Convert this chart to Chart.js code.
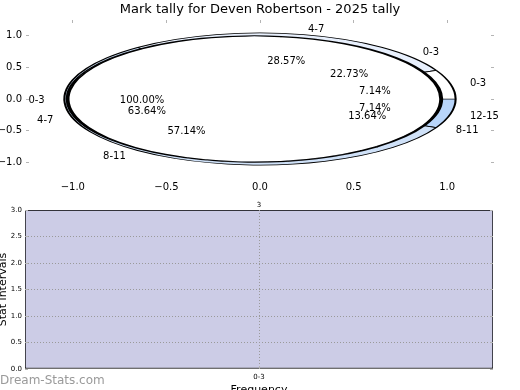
<!DOCTYPE html>
<html><head><meta charset="utf-8">
<script src="https://cdn.jsdelivr.net/npm/chart.js@4.4.1/dist/chart.umd.min.js"></script>
<style>
html,body{margin:0;padding:0;background:#fff;width:520px;height:390px;overflow:hidden;position:relative}
canvas{position:absolute}
#wm{position:absolute;left:0;top:373px;font:12px "DejaVu Sans";line-height:14px;color:#9a9a9a;white-space:nowrap}
</style></head><body>
<canvas id="axes" width="520" height="197" style="left:0;top:0"></canvas>
<canvas id="pie" width="520" height="197" style="left:0;top:0"></canvas>
<canvas id="bar" width="522" height="200" style="left:-2px;top:197px"></canvas>
<div id="wm">Dream-Stats.com</div>
<script>
// ---- data ----
const chartTitle = 'Mark tally for Deven Robertson - 2025 tally';
const innerLabels = ['0-3'];
const innerValues = [3];
const middleLabels = ['0-3', '4-7', '8-11'];
const middleValues = [5, 14, 3];
const outerLabels = ['0-3', '4-7', '8-11', '12-15'];
const outerValues = [1, 4, 8, 1];
const pieAxisTicks = [-1.0, -0.5, 0.0, 0.5, 1.0];
const barCategories = ['0-3'];
const barValues = [3];
const barTicks = [0, 0.5, 1.0, 1.5, 2.0, 2.5, 3.0];
const barYTitle = 'Stat intervals';
const barXTitle = 'Frequency';

// ---- styles / geometry ----
const sliceColors = {'0-3': '#ffffff', '4-7': '#e8f0fd', '8-11': '#cfe1f8', '12-15': '#b8d5fa'};
const TICK_GRAY = '#b4b4b4';
const GRID_GRAY = '#9a9a9a';
const LABEL_R = 1.15, PCT_R = 0.63;
// ring geometry in axis units: [inner, outer, horizontal centre shift, border width]
const outerRing = [0.96, 1.045, 0.0, 0.7];
const middleRing = [0.993, 1.003, -0.03, 0.7];
const innerRing = [0.0, 0.993, -0.03, 0];

Chart.defaults.font.family = "'DejaVu Sans', sans-serif";
Chart.defaults.color = '#000';
const fmt1 = v => (v < 0 ? '\u2212' : '') + Math.abs(v).toFixed(1);
const setTicks = arr => s => { s.ticks = arr.map(v => ({value: v})); };

// ---- top axes ----
const axesChart = new Chart(document.getElementById('axes'), {
  type: 'scatter',
  data: {datasets: []},
  options: {
    responsive: false, animation: false, events: [],
    layout: {padding: 0},
    plugins: {
      legend: {display: false}, tooltip: {enabled: false},
      title: {display: true, text: chartTitle, font: {size: 13, weight: 'normal'}, color: '#000', padding: {top: 2, bottom: 0}}
    },
    scales: {
      x: {type: 'linear', position: 'bottom', min: -1.25, max: 1.25, afterBuildTicks: setTicks(pieAxisTicks),
          afterFit: s => { s.height = 19; },
          ticks: {callback: fmt1, font: {size: 10}, padding: 3, maxRotation: 0, autoSkip: false},
          grid: {drawOnChartArea: false, drawTicks: false}, border: {display: false}},
      x2: {type: 'linear', position: 'top', min: -1.25, max: 1.25, afterBuildTicks: setTicks(pieAxisTicks),
          afterFit: s => { s.height = 2.4; },
          ticks: {display: false}, grid: {drawOnChartArea: false, tickLength: -3, tickColor: TICK_GRAY}, border: {display: false}},
      y: {type: 'linear', position: 'left', min: -1.25, max: 1.25, afterBuildTicks: setTicks(pieAxisTicks),
          afterFit: s => { s.width = 26; },
          ticks: {callback: fmt1, font: {size: 10}, padding: 7},
          grid: {drawOnChartArea: false, tickLength: -3, tickColor: TICK_GRAY}, border: {display: false}},
      y2: {type: 'linear', position: 'right', min: -1.25, max: 1.25, afterBuildTicks: setTicks(pieAxisTicks),
          afterFit: s => { s.width = 26; },
          ticks: {display: false}, grid: {drawOnChartArea: false, tickLength: -3, tickColor: TICK_GRAY}, border: {display: false}}
    }
  }
});

// ---- pie (nested rings) drawn onto the axes ----
const ca = axesChart.chartArea;
const xs = axesChart.scales.x, ys = axesChart.scales.y;
const unitX = xs.getPixelForValue(1) - xs.getPixelForValue(0);
const unitY = ys.getPixelForValue(0) - ys.getPixelForValue(1);
const RING_COUNT = 3;

// Chart.js stacks rings by dataset index k (equal weights); choose radius/cutout so ring k spans [rin, rout]
function ring(labels, values, geom, k, drawOrder) {
  const [rin, rout, shift, bw] = geom;
  const L = rout - rin;
  const R = rout + k * L;
  const cut = Math.max(0, 1 - RING_COUNT * L / R);
  const l = labels.slice().reverse(), v = values.slice().reverse();
  return {
    data: v, sliceLabels: l, shiftX: shift,
    backgroundColor: l.map(key => sliceColors[key]),
    borderColor: '#000', borderWidth: bw,
    weight: 1, rotation: 90, order: drawOrder,
    radius: unitY * R,
    cutout: (cut * 100) + '%'
  };
}

const ellipsePlugin = {
  id: 'ellipse',
  beforeDatasetDraw(chart, args) {
    const c = chart.ctx, a = chart.chartArea;
    const ds = chart.data.datasets[args.index];
    const cx = (a.left + a.right) / 2, cy = (a.top + a.bottom) / 2;
    c.save(); c.translate(cx + ds.shiftX * unitX, cy); c.scale(unitX / unitY, 1); c.translate(-cx, -cy);
  },
  afterDatasetDraw(chart) { chart.ctx.restore(); }
};
const pieLabelPlugin = {
  id: 'pielabels',
  afterDraw(chart) {
    const c = chart.ctx;
    c.save();
    c.font = '10px "DejaVu Sans"'; c.fillStyle = '#000';
    chart.data.datasets.forEach((ds, di) => {
      const meta = chart.getDatasetMeta(di);
      const total = ds.data.reduce((a, b) => a + b, 0);
      meta.data.forEach((arc, i) => {
        const p = arc.getProps(['x', 'y', 'startAngle', 'endAngle'], true);
        const mid = (p.startAngle + p.endAngle) / 2;
        const cs = Math.cos(mid), sn = Math.sin(mid);
        c.textBaseline = 'middle';
        c.textAlign = cs > 0 ? 'left' : 'right';
        c.fillText(ds.sliceLabels[i], p.x + cs * LABEL_R * unitX, p.y + 1 + sn * LABEL_R * unitY);
        c.textAlign = 'center';
        c.fillText((ds.data[i] / total * 100).toFixed(2) + '%', p.x + cs * PCT_R * unitX, p.y + 1 + sn * PCT_R * unitY);
      });
    });
    c.restore();
  }
};

new Chart(document.getElementById('pie'), {
  type: 'doughnut',
  data: {datasets: [
    ring(outerLabels, outerValues, outerRing, 0, 2),
    ring(middleLabels, middleValues, middleRing, 1, 0),
    ring(innerLabels, innerValues, innerRing, 2, 1)
  ]},
  options: {
    responsive: false, animation: false, events: [],
    layout: {padding: {left: ca.left, top: ca.top, right: 520 - ca.right, bottom: 197 - ca.bottom}},
    plugins: {legend: {display: false}, tooltip: {enabled: false}, title: {display: false}}
  },
  plugins: [ellipsePlugin, pieLabelPlugin]
});

// ---- bar chart ----
const barLabelPlugin = {
  id: 'barlabels',
  afterDraw(chart) {
    const c = chart.ctx, meta = chart.getDatasetMeta(0);
    c.save();
    c.font = '7px "DejaVu Sans"'; c.fillStyle = '#000'; c.textAlign = 'center'; c.textBaseline = 'bottom';
    meta.data.forEach((el, i) => c.fillText(String(chart.data.datasets[0].data[i]), el.x, el.y - 1));
    c.restore();
  }
};

new Chart(document.getElementById('bar'), {
  type: 'bar',
  data: {labels: barCategories, datasets: [{
    data: barValues, backgroundColor: 'rgb(204,204,230)', borderColor: '#000', borderWidth: 1,
    borderSkipped: false, barPercentage: 1, categoryPercentage: 1
  }]},
  options: {
    responsive: false, animation: false, events: [],
    layout: {padding: {top: 13}},
    plugins: {legend: {display: false}, tooltip: {enabled: false}},
    scales: {
      x: {type: 'category', position: 'bottom', offset: true, afterFit: s => { s.height = 28; },
          ticks: {font: {size: 7}, padding: 7, maxRotation: 0},
          grid: {offset: false, color: GRID_GRAY, tickLength: -3, tickColor: TICK_GRAY, z: 1},
          border: {display: false, dash: [1, 2]},
          title: {display: true, text: barXTitle, font: {size: 11}, padding: {top: 0, bottom: 0}}},
      y: {type: 'linear', position: 'left', min: 0, max: 3, afterBuildTicks: setTicks(barTicks),
          afterFit: s => { s.width = 27; },
          ticks: {callback: v => v.toFixed(1), font: {size: 7}, padding: 6},
          grid: {color: c => (c.tick && (c.tick.value === 0 || c.tick.value === 3)) ? 'rgba(0,0,0,0)' : GRID_GRAY,
                 tickLength: -3, tickColor: TICK_GRAY, z: 1},
          border: {display: false, dash: [1, 2]},
          title: {display: true, text: barYTitle, font: {size: 11}, padding: {top: -1, bottom: 0}}},
      y2: {type: 'linear', position: 'right', min: 0, max: 3, afterBuildTicks: setTicks(barTicks),
          afterFit: s => { s.width = 27; },
          ticks: {display: false}, grid: {drawOnChartArea: false, tickLength: -3, tickColor: TICK_GRAY, z: 1},
          border: {display: false}}
    }
  },
  plugins: [barLabelPlugin]
});
</script>
</body></html>
